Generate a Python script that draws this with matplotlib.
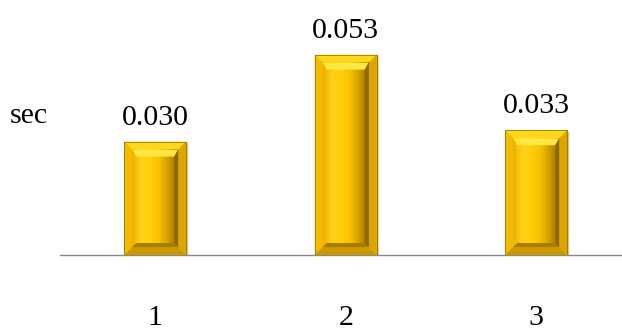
import numpy as np
import matplotlib.pyplot as plt
from matplotlib.patches import Polygon
from matplotlib.colors import LinearSegmentedColormap

# -----------------------
# DATA
# -----------------------
categories = ["1", "2", "3"]
values = [0.030, 0.053, 0.033]
value_labels = ["0.030", "0.053", "0.033"]
y_label = "sec"

# -----------------------
# FIGURE
# -----------------------
plt.rcParams["font.family"] = ["Liberation Serif", "DejaVu Serif"]
fs = 21.5

fig = plt.figure(figsize=(6.22, 3.31), dpi=100)
ax = fig.add_axes([60 / 622, 1 - 255 / 331, (622 - 60) / 622, 226.8 / 331])

x = np.arange(len(categories))
ax.set_xlim(-0.5, 2.45)
ax.set_ylim(0, 0.06)

bar_w = 0.325
bars = ax.bar(x, values, width=bar_w, color="#F2BE00", edgecolor="#A07800",
              linewidth=0.6, zorder=2)

# bevel sizes (pixels -> data)
px_x = (2.45 + 0.5) / 562
px_y = 0.06 / 226.8
ins_x = 8 * px_x
ins_y = 8 * px_y

face_cmap = LinearSegmentedColormap.from_list(
    "face", ["#EAB200", "#FFD21A", "#FFCE0A", "#F6C000", "#D09C00", "#9A7000"])

for b in bars:
    x0, w, h = b.get_x(), b.get_width(), b.get_height()
    x1 = x0 + w
    # shadow
    ax.add_patch(Polygon([(x1, 0), (x1 + 2 * px_x, 0), (x1 + 2 * px_x, h - 2 * px_y), (x1, h)],
                         closed=True, color="#B8A060", alpha=0.6, lw=0, zorder=1))
    ix0, ix1 = x0 + ins_x, x1 - ins_x
    iy0, iy1 = ins_y, h - ins_y
    # top bevel
    ax.add_patch(Polygon([(x0, h), (x1, h), (ix1, iy1), (ix0, iy1)],
                         closed=True, color="#FFD81E", lw=0, zorder=3))
    # left bevel
    ax.add_patch(Polygon([(x0, h), (ix0, iy1), (ix0, iy0), (x0, 0)],
                         closed=True, color="#F3BA00", lw=0, zorder=3))
    # right bevel
    ax.add_patch(Polygon([(x1, h), (ix1, iy1), (ix1, iy0), (x1, 0)],
                         closed=True, color="#DCA600", lw=0, zorder=3))
    # bottom bevel
    ax.add_patch(Polygon([(x0, 0), (ix0, iy0), (ix1, iy0), (x1, 0)],
                         closed=True, color="#CC9800", lw=0, zorder=3))
    # inner face with horizontal gradient
    grad = np.linspace(0, 1, 64).reshape(1, -1)
    ax.imshow(grad, cmap=face_cmap, extent=(ix0, ix1, iy0, iy1), aspect="auto",
              interpolation="bicubic", zorder=4)
    # inner top highlight
    ax.add_patch(Polygon([(ix0, iy1), (ix1, iy1), (ix1 - 4 * px_x, iy1 - 7 * px_y),
                          (ix0 + 4 * px_x, iy1 - 7 * px_y)],
                         closed=True, color="#FFE640", lw=0, zorder=5))
    # inner right shade
    ax.add_patch(Polygon([(ix1, iy1), (ix1, iy0), (ix1 - 4 * px_x, iy0 + 4 * px_y),
                          (ix1 - 4 * px_x, iy1 - 7 * px_y)],
                         closed=True, color="#8C6800", lw=0, zorder=5))
    # inner bottom shade
    ax.add_patch(Polygon([(ix0, iy0), (ix1, iy0), (ix1 - 4 * px_x, iy0 + 4 * px_y),
                          (ix0 + 4 * px_x, iy0 + 4 * px_y)],
                         closed=True, color="#A87C00", lw=0, zorder=5))
    # outline
    ax.add_patch(Polygon([(x0, 0), (x0, h), (x1, h), (x1, 0)], closed=True,
                         fill=False, edgecolor="#A07800", lw=0.6, zorder=6))

# value labels
for xi, v, lab in zip(x, values, value_labels):
    ax.text(xi, v + 17 * px_y, lab, ha="center", va="baseline", fontsize=fs, color="black")

# axes styling
for s in ["top", "right", "left"]:
    ax.spines[s].set_visible(False)
ax.spines["bottom"].set_color("#888888")
ax.spines["bottom"].set_linewidth(1.0)
ax.set_yticks([])
ax.set_xticks(x)
ax.set_xticklabels(categories, fontsize=fs)
ax.tick_params(axis="x", length=0, pad=36)

fig.text(10 / 622, 1 - 123 / 331, y_label, fontsize=fs, va="baseline", ha="left")

fig.savefig("out.png", dpi=100)
